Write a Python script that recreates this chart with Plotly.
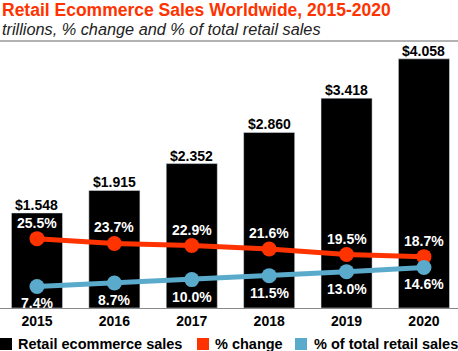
import plotly.graph_objects as go

years = ["2015", "2016", "2017", "2018", "2019", "2020"]
sales = [1.548, 1.915, 2.352, 2.860, 3.418, 4.058]
sales_labels = ["$1.548", "$1.915", "$2.352", "$2.860", "$3.418", "$4.058"]
pct_change = [25.5, 23.7, 22.9, 21.6, 19.5, 18.7]
pct_total = [7.4, 8.7, 10.0, 11.5, 13.0, 14.6]
legend_names = ["Retail ecommerce sales", "% change", "% of total retail sales"]

RED = "#ff3300"
BLUE = "#5aaacb"
BLACK = "#000000"
FONT = "Liberation Sans"

W, H = 458, 351
T, B = 50, 43
PH = H - T - B  # plot height in px


def py(p):
    return (H - B - p) / PH


fig = go.Figure()
fig.add_trace(go.Bar(
    x=years, y=sales, name=legend_names[0], marker_color=BLACK, width=0.66,
    showlegend=False, yaxis="y",
))
fig.add_trace(go.Scatter(
    x=years, y=pct_change, name=legend_names[1], mode="lines+markers",
    line=dict(color=RED, width=5), marker=dict(color=RED, size=15),
    showlegend=False, yaxis="y2", cliponaxis=False,
))
fig.add_trace(go.Scatter(
    x=years, y=pct_total, name=legend_names[2], mode="lines+markers",
    line=dict(color=BLUE, width=5), marker=dict(color=BLUE, size=15),
    showlegend=False, yaxis="y2", cliponaxis=False,
))

ann = []
for i, (v, lab) in enumerate(zip(sales, sales_labels)):
    ann.append(dict(x=i, y=v, xref="x", yref="y", text=lab, yshift=8,
                    font=dict(family=FONT, size=14, weight="bold", color=BLACK)))
for i, v in enumerate(pct_change):
    ann.append(dict(x=i, y=v, xref="x", yref="y2", text=f"{v:.1f}%", yshift=16,
                    font=dict(family=FONT, size=14, weight="bold", color="white")))
for i, v in enumerate(pct_total):
    ann.append(dict(x=i, y=v, xref="x", yref="y2", text=f"{v:.1f}%", yshift=-17,
                    font=dict(family=FONT, size=14, weight="bold", color="white")))
for a in ann:
    a.update(xanchor="center", yanchor="middle", showarrow=False)

head = [
    dict(text="Retail Ecommerce Sales Worldwide, 2015-2020", x=0, y=py(10),
         font=dict(family=FONT, size=17.5, color=RED, weight="bold")),
    dict(text="<i>trillions, % change and % of total retail sales</i>", x=0, y=py(29),
         font=dict(family=FONT, size=16.3, color="#222222")),
]
legend_x = [(0, 16), (197, 213), (295, 312)]
legend_colors = [BLACK, RED, BLUE]
shapes = [dict(type="line", xref="paper", yref="paper", x0=0, x1=1, y0=py(41), y1=py(41),
               line=dict(color="#999999", width=1.5))]
for (sx, tx), name, col in zip(legend_x, legend_names, legend_colors):
    shapes.append(dict(type="rect", xref="paper", yref="paper",
                       x0=sx / W, x1=(sx + 12) / W, y0=py(338), y1=py(350),
                       fillcolor=col, line=dict(width=0)))
    head.append(dict(text=name, x=tx / W, y=py(344),
                     font=dict(family=FONT, size=14.5, color=BLACK, weight="bold")))
for a in head:
    a.update(xref="paper", yref="paper", xanchor="left", yanchor="middle", showarrow=False)
ann += head

fig.update_layout(
    width=W, height=H, margin=dict(l=0, r=0, t=T, b=B),
    paper_bgcolor="white", plot_bgcolor="white",
    annotations=ann, shapes=shapes, showlegend=False,
    xaxis=dict(type="category", range=[-0.478, 5.44], showline=True, linecolor="#888888",
               linewidth=1, showgrid=False, ticks="", ticklabelstandoff=0,
               tickfont=dict(family=FONT, size=14, color=BLACK, weight="bold"),
               fixedrange=True),
    yaxis=dict(range=[0, PH / 61.4], visible=False, showgrid=False, fixedrange=True),
    yaxis2=dict(range=[-0.76, PH / 2.64 - 0.76], overlaying="y", visible=False,
                showgrid=False, fixedrange=True),
    bargap=0.34,
)

fig.write_html("out.html")
